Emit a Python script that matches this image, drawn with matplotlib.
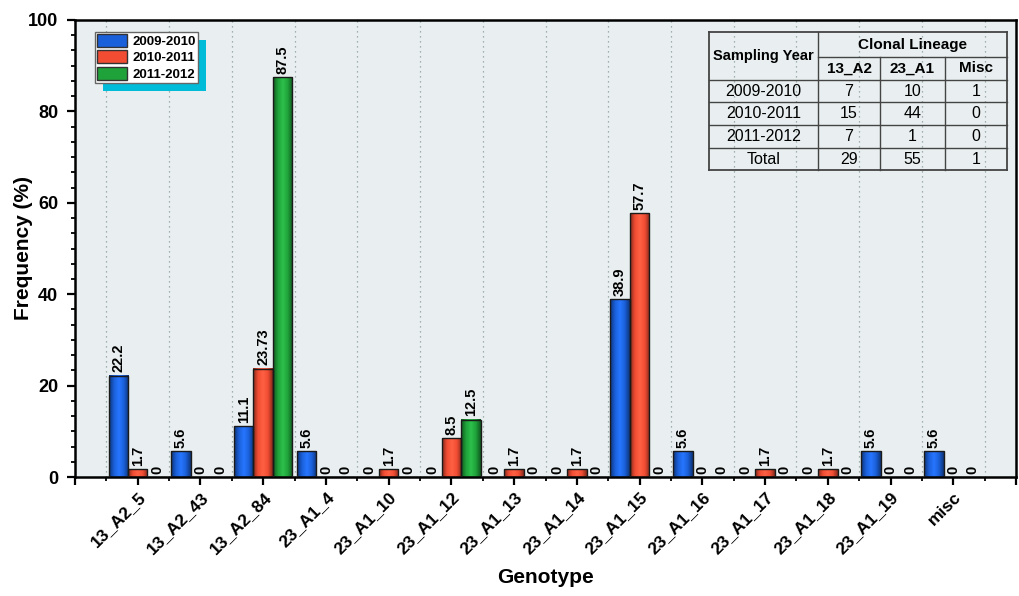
import numpy as np
import matplotlib
matplotlib.use("Agg")
import matplotlib.pyplot as plt
from matplotlib.colors import LinearSegmentedColormap, to_rgb
from matplotlib.patches import Patch, Rectangle
from matplotlib.lines import Line2D
from matplotlib.ticker import MultipleLocator

plt.rcParams['font.family'] = ['Liberation Sans', 'DejaVu Sans']

# ---- data ----
genotypes = ['13_A2_5', '13_A2_43', '13_A2_84', '23_A1_4', '23_A1_10', '23_A1_12',
             '23_A1_13', '23_A1_14', '23_A1_15', '23_A1_16', '23_A1_17', '23_A1_18',
             '23_A1_19', 'misc']
years = ['2009-2010', '2010-2011', '2011-2012']
freq_0910 = [22.2, 5.6, 11.1, 5.6, 0, 0, 0, 0, 38.9, 5.6, 0, 0, 5.6, 5.6]
freq_1011 = [1.7, 0, 23.73, 0, 1.7, 8.5, 1.7, 1.7, 57.7, 0, 1.7, 1.7, 0, 0]
freq_1112 = [0, 0, 87.5, 0, 0, 12.5, 0, 0, 0, 0, 0, 0, 0, 0]

table_years = ['2009-2010', '2010-2011', '2011-2012', 'Total']
table_lineages = ['13_A2', '23_A1', 'Misc']
table_counts = [[7, 10, 1],
                [15, 44, 0],
                [7, 1, 0],
                [29, 55, 1]]

colors = ['#1a60da', '#f24d33', '#1fa23a']

W, H = 1019, 596
fig = plt.figure(figsize=(W / 100, H / 100), dpi=100)
ax = fig.add_axes([75 / W, 1 - 477 / H, (1016 - 75) / W, (477 - 20) / H])
ax.set_facecolor('#e9eff0')

x = np.arange(len(genotypes))
bw = 0.31
series = [freq_0910, freq_1011, freq_1112]


def shade_cmap(c):
    r = np.array(to_rgb(c))
    dark = r * 0.55
    light = np.clip(r * 1.12 + 0.04, 0, 1)
    return LinearSegmentedColormap.from_list('s', [dark, r, light, r, dark])


grad = np.linspace(0, 1, 64).reshape(1, -1)
for i, vals in enumerate(series):
    pos = x + (i - 1) * bw
    bars = ax.bar(pos, vals, bw, facecolor='none', edgecolor='#1a1a1a', lw=1.0, zorder=3)
    cm = shade_cmap(colors[i])
    for b, v in zip(bars, vals):
        if v > 0:
            ax.imshow(grad, cmap=cm, aspect='auto', zorder=2.5,
                      extent=[b.get_x(), b.get_x() + b.get_width(), 0, v])
        ax.annotate(f'{v:g}', (b.get_x() + b.get_width() / 2, v), xytext=(0, 2.5),
                    textcoords='offset points', rotation=90, ha='center', va='bottom',
                    fontsize=10.5, fontweight='bold', zorder=4)

ax.set_xlim(-1, len(genotypes))
ax.set_ylim(0, 100)

# grid at half positions
for g in np.arange(-0.5, len(genotypes), 1.0):
    ax.axvline(g, color='#8a9a9a', lw=0.9, ls=(0, (1, 3)), zorder=1)

ax.set_xticks(np.arange(-1, len(genotypes) + 1))
ax.set_xticklabels([''] + genotypes + [''], rotation=45, ha='right', va='top',
                   rotation_mode='anchor', fontsize=12.5, fontweight='bold')
ax.set_xticks(np.arange(-0.5, len(genotypes), 1.0), minor=True)
ax.yaxis.set_major_locator(MultipleLocator(20))
ax.yaxis.set_minor_locator(MultipleLocator(20 / 6))
for lab in ax.get_yticklabels():
    lab.set_fontweight('bold')
ax.tick_params(axis='y', labelsize=13)
ax.tick_params(which='major', direction='out', length=6, width=1.6, pad=6)
ax.tick_params(which='minor', direction='out', length=3, width=1.3)
ax.tick_params(axis='x', which='major', pad=3)
for s in ax.spines.values():
    s.set_linewidth(1.8)

ax.set_ylabel('Frequency (%)', fontsize=15, fontweight='bold')
ax.yaxis.set_label_coords(-0.045, 0.5)
ax.set_xlabel('Genotype', fontsize=15, fontweight='bold', va='center')
ax.xaxis.set_label_coords(0.5, -0.221)

# legend with cyan shadow
handles = [Patch(facecolor=c, edgecolor='#333333', lw=1) for c in colors]
leg = ax.legend(handles, years, loc='upper left', bbox_to_anchor=(95 / W, 1 - 32 / H),
                bbox_transform=fig.transFigure, borderaxespad=0, fancybox=False,
                edgecolor='#666666', framealpha=1, prop={'weight': 'bold', 'size': 9.5},
                handlelength=2.3, handleheight=1.1, labelspacing=0.2,
                handletextpad=0.4, borderpad=0.15)
leg.get_frame().set_linewidth(1.0)
leg.set_zorder(6)
fig.canvas.draw()
bb = leg.get_window_extent()
inv = ax.transAxes.inverted()
(x0, y0), (x1, y1) = inv.transform([[bb.x0 + 8, bb.y0 - 8], [bb.x1 + 8, bb.y1 - 8]])
ax.add_patch(Rectangle((x0, y0), x1 - x0, y1 - y0, transform=ax.transAxes,
                       facecolor='#00bcd8', edgecolor='none', zorder=5.5))

# table drawn in figure pixels
tsize = 11.5


def fx(px):
    return px / W


def fy(py):
    return 1 - py / H


cols = [709, 818, 880, 945, 1007]
rows = [32, 57, 80, 102, 125, 148, 170]
lc = '#444444'


def hline(y, xa, xb, lw=1.0):
    fig.add_artist(Line2D([fx(xa), fx(xb)], [fy(y), fy(y)], color=lc, lw=lw))


def vline(xv, ya, yb, lw=1.0):
    fig.add_artist(Line2D([fx(xv), fx(xv)], [fy(ya), fy(yb)], color=lc, lw=lw))


hline(rows[0], cols[0], cols[-1], 1.3)
hline(rows[1], cols[1], cols[-1])
for r in rows[2:-1]:
    hline(r, cols[0], cols[-1])
hline(rows[-1], cols[0], cols[-1], 1.3)
vline(cols[0], rows[0], rows[-1], 1.3)
vline(cols[1], rows[0], rows[-1])
vline(cols[2], rows[1], rows[-1])
vline(cols[3], rows[1], rows[-1])
vline(cols[-1], rows[0], rows[-1], 1.3)

fig.text(fx((cols[0] + cols[1]) / 2), fy((rows[0] + rows[2]) / 2), 'Sampling Year',
         ha='center', va='center', fontsize=10.5, fontweight='bold')
fig.text(fx((cols[1] + cols[-1]) / 2), fy((rows[0] + rows[1]) / 2), 'Clonal Lineage',
         ha='center', va='center', fontsize=11, fontweight='bold')
for j, name in enumerate(table_lineages):
    fig.text(fx((cols[j + 1] + cols[j + 2]) / 2), fy((rows[1] + rows[2]) / 2), name,
             ha='center', va='center', fontsize=11, fontweight='bold')
for i, yr in enumerate(table_years):
    yc = fy((rows[i + 2] + rows[i + 3]) / 2)
    fig.text(fx((cols[0] + cols[1]) / 2), yc, yr, ha='center', va='center',
             fontsize=tsize)
    for j, v in enumerate(table_counts[i]):
        fig.text(fx((cols[j + 1] + cols[j + 2]) / 2), yc, str(v), ha='center',
                 va='center', fontsize=tsize)

fig.savefig('out.png', dpi=100)
